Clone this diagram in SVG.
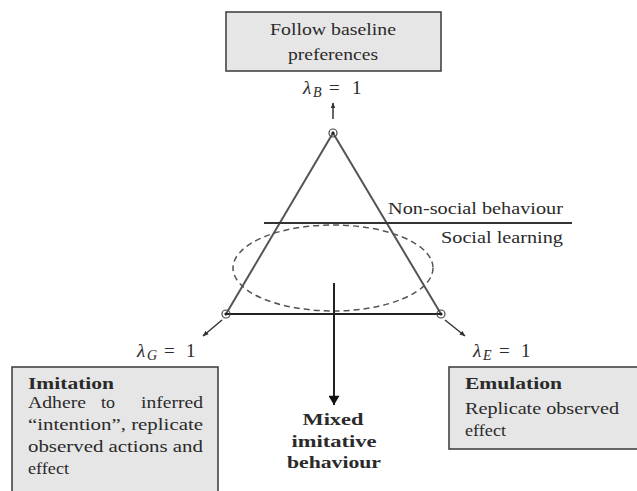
<svg xmlns="http://www.w3.org/2000/svg" width="637" height="491" viewBox="0 0 637 491">
<style>
  text { fill: #2a2a2a; }
  .b { font-weight: bold; }
  .box { fill: #e6e6e6; stroke: #444; stroke-width: 1.6; }
  .edge { stroke: #555; stroke-width: 2; fill: none; }
  .small { stroke: #333; stroke-width: 1.5; fill: none; marker-end: url(#ah); }
  .sub { font-style: italic; font-size: 14px; }
  .it { font-style: italic; }
</style>
<defs>
  <marker id="ah" viewBox="0 0 10 10" refX="9" refY="5" markerWidth="6" markerHeight="6" orient="auto" markerUnits="userSpaceOnUse">
    <path d="M0,1 L10,5 L0,9 Z" fill="#333"/>
  </marker>
  <marker id="big" viewBox="0 0 10 12" refX="10" refY="6" markerWidth="15" markerHeight="11" orient="auto" markerUnits="userSpaceOnUse">
    <path d="M0,0 L10,6 L0,12 Z" fill="#111"/>
  </marker>
</defs>
<rect width="637" height="491" fill="#fff"/>

<g font-size="17" font-family="'Liberation Serif', 'DejaVu Serif', serif">
<g id="node-baseline">
  <rect class="box" x="226" y="12" width="215" height="59"/>
  <text x="333" y="35" text-anchor="middle" textLength="126" lengthAdjust="spacingAndGlyphs">Follow baseline</text>
  <text x="333" y="60" text-anchor="middle" textLength="90" lengthAdjust="spacingAndGlyphs">preferences</text>
</g>

<g id="node-imitation">
  <rect class="box" x="12" y="367" width="206" height="130"/>
  <text class="b" x="28" y="389" textLength="86" lengthAdjust="spacingAndGlyphs">Imitation</text>
  <text x="28" y="408" textLength="58" lengthAdjust="spacingAndGlyphs">Adhere</text>
  <text x="101" y="408" textLength="14" lengthAdjust="spacingAndGlyphs">to</text>
  <text x="141" y="408" textLength="62" lengthAdjust="spacingAndGlyphs">inferred</text>
  <text x="28" y="430" textLength="175" lengthAdjust="spacingAndGlyphs">“intention”, replicate</text>
  <text x="28" y="452" textLength="175" lengthAdjust="spacingAndGlyphs">observed actions and</text>
  <text x="28" y="474" textLength="41" lengthAdjust="spacingAndGlyphs">effect</text>
</g>

<g id="node-emulation">
  <rect class="box" x="449" y="367" width="195" height="82"/>
  <text class="b" x="465" y="389" textLength="97" lengthAdjust="spacingAndGlyphs">Emulation</text>
  <text x="465" y="414" textLength="154" lengthAdjust="spacingAndGlyphs">Replicate observed</text>
  <text x="465" y="436" textLength="41" lengthAdjust="spacingAndGlyphs">effect</text>
</g>

<g id="node-mixed">
  <text class="b" x="333" y="425" text-anchor="middle" textLength="61" lengthAdjust="spacingAndGlyphs">Mixed</text>
  <text class="b" x="334" y="447" text-anchor="middle" textLength="85" lengthAdjust="spacingAndGlyphs">imitative</text>
  <text class="b" x="334" y="468" text-anchor="middle" textLength="94" lengthAdjust="spacingAndGlyphs">behaviour</text>
</g>

<g id="simplex">
  <polyline class="edge" points="226,314 333,133 441,314"/>
  <line x1="226" y1="314" x2="441" y2="314" stroke="#222" stroke-width="2"/>
  <ellipse cx="333" cy="268" rx="100" ry="43" fill="none" stroke="#555" stroke-width="1.5" stroke-dasharray="6 4"/>
  <line x1="264" y1="223" x2="572" y2="223" stroke="#333" stroke-width="2"/>
  <text x="563" y="214" text-anchor="end" textLength="175" lengthAdjust="spacingAndGlyphs">Non-social behaviour</text>
  <text x="563" y="243" text-anchor="end" textLength="122" lengthAdjust="spacingAndGlyphs">Social learning</text>
  <g fill="none" stroke="#444" stroke-width="1.2">
    <circle cx="333" cy="133" r="4"/>
    <circle cx="226" cy="314" r="4"/>
    <circle cx="441" cy="314" r="4"/>
  </g>
  <g fill="#222">
    <circle cx="333" cy="133" r="1.6"/>
    <circle cx="226" cy="314" r="1.6"/>
    <circle cx="441" cy="314" r="1.6"/>
  </g>
</g>

<g id="labels" font-size="19">
  <text y="94"><tspan class="it" x="303">λ</tspan><tspan class="sub" x="313" y="97">B</tspan><tspan x="329" y="94">=</tspan><tspan x="352">1</tspan></text>
  <text y="357"><tspan class="it" x="137">λ</tspan><tspan class="sub" x="147" y="360">G</tspan><tspan x="164" y="357">=</tspan><tspan x="186">1</tspan></text>
  <text y="357"><tspan class="it" x="473">λ</tspan><tspan class="sub" x="483" y="360">E</tspan><tspan x="499" y="357">=</tspan><tspan x="521">1</tspan></text>
</g>
</g>

<g id="connectors">
  <line class="small" x1="333" y1="119" x2="333" y2="103"/>
  <line class="small" x1="222" y1="320" x2="203" y2="336"/>
  <line class="small" x1="445" y1="320" x2="465" y2="336"/>
  <line x1="334" y1="283" x2="334" y2="405" stroke="#222" stroke-width="2" marker-end="url(#big)"/>
</g>
</svg>
